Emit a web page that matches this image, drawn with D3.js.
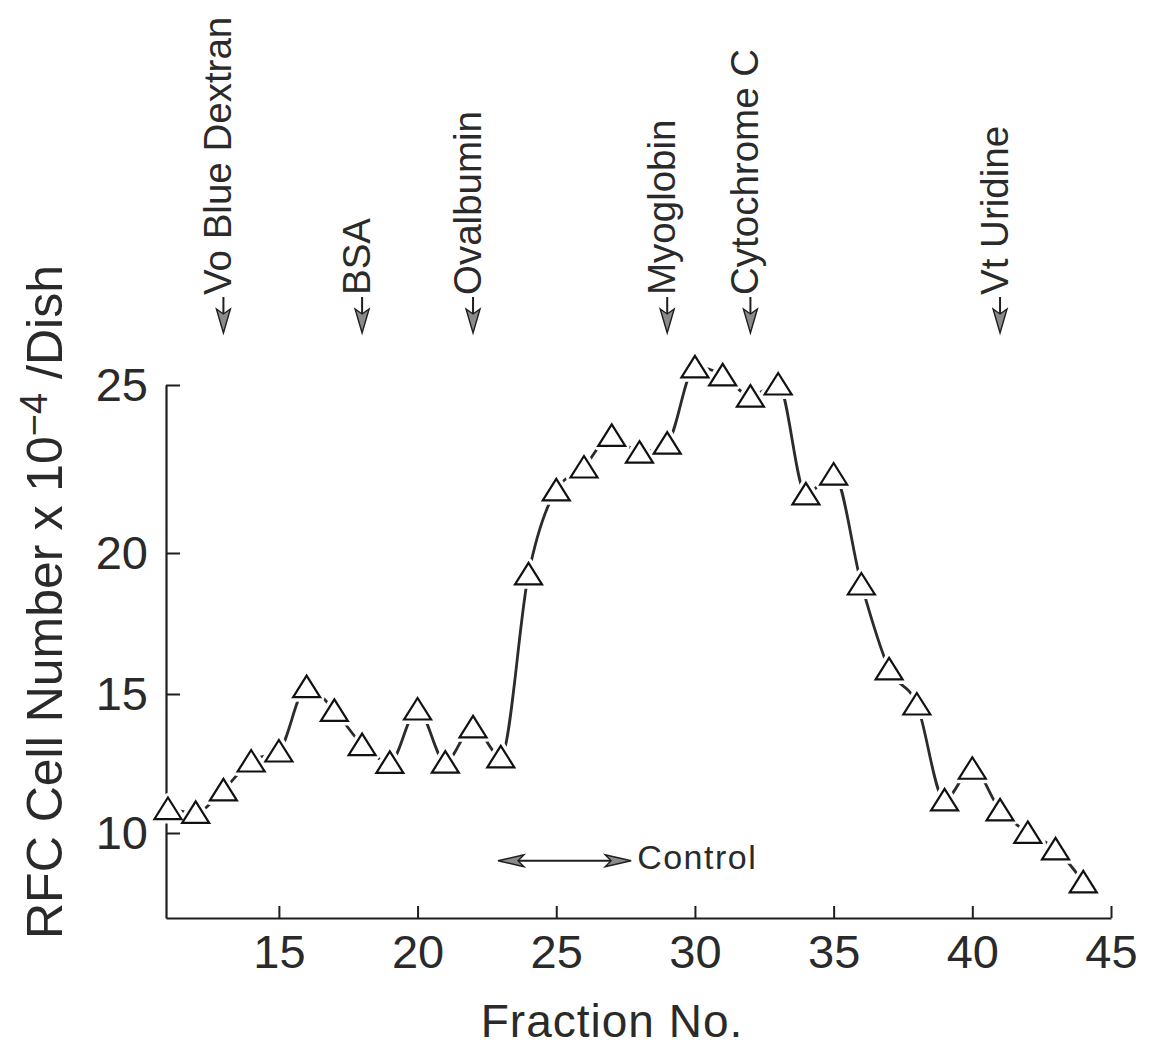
<!DOCTYPE html>
<html>
<head>
<meta charset="utf-8">
<script src="https://cdn.jsdelivr.net/npm/d3@7"></script>
<style>
  html, body { margin: 0; padding: 0; background: #fff; }
  svg { display: block; }
</style>
</head>
<body>
<svg id="chart" width="1156" height="1049"></svg>
<script>
// ---- data ----
const fractions = [11,12,13,14,15,16,17,18,19,20,21,22,23,24,25,26,27,28,29,30,31,32,33,34,35,36,37,38,39,40,41,42,43,44];
const rfcCells = [10.88,10.74,11.55,12.59,12.95,15.26,14.41,13.18,12.54,14.46,12.55,13.82,12.74,19.26,21.88,22.56,23.5,23.0,23.27,25.54,25.3,24.67,25.03,21.76,22.35,18.9,15.89,14.64,11.19,12.33,10.83,10.02,9.43,8.24];
const xTicks = [15,20,25,30,35,40,45];
const yTicks = [10,15,20,25];
const markerNames = ["Vo Blue Dextran","BSA","Ovalbumin","Myoglobin","Cytochrome C","Vt Uridine"];
const markerFractions = [13,18,22,29,32,41];
const controlRange = [22.9, 27.7];
const controlLevel = 9.0;
const controlLabel = "Control";
const xTitle = "Fraction No.";

// ---- scales (y is piecewise to follow the scanned figure) ----
const svg = d3.select("#chart");
const x = d3.scaleLinear().domain([10.93, 45]).range([166, 1111]);
const y = d3.scaleLinear().domain([6.94, 10, 15, 20, 25]).range([918, 833, 694, 553, 385]);

const ink = "#1e1e1e";
const txt = "#2a2a2a";
const font = "'Liberation Sans', Arial, Helvetica, sans-serif";

// ---- axes ----
const yAxis = svg.append("g")
  .attr("transform", `translate(${x.range()[0]},0)`)
  .call(d3.axisLeft(y).tickValues(yTicks).tickSize(-14).tickSizeOuter(0).tickPadding(18).tickFormat(d3.format("d")));
const xAxis = svg.append("g")
  .attr("transform", `translate(0,${y.range()[0]})`)
  .call(d3.axisBottom(x).tickValues(xTicks).tickSize(-12).tickSizeOuter(0).tickPadding(17).tickFormat(d3.format("d")));
[yAxis, xAxis].forEach(g => {
  g.attr("font-family", font).attr("font-size", 47);
  g.selectAll("path.domain").attr("stroke", ink).attr("stroke-width", 2.2);
  g.selectAll(".tick line").attr("stroke", ink).attr("stroke-width", 2);
  g.selectAll(".tick text").attr("fill", txt);
});

// ---- series line ----
const line = d3.line()
  .x((d, i) => x(fractions[i]))
  .y(d => y(d))
  .curve(d3.curveMonotoneX);
svg.append("path")
  .datum(rfcCells)
  .attr("d", line)
  .attr("fill", "none")
  .attr("stroke", "#2b2b2b")
  .attr("stroke-width", 2.8);

// ---- triangles ----
const tri = "M0,-11L13.5,10.5L-13.5,10.5Z";
const pts = svg.append("g");
pts.selectAll("path.halo").data(rfcCells).join("path")
  .attr("class", "halo")
  .attr("d", tri)
  .attr("transform", (d, i) => `translate(${x(fractions[i])},${y(d)})`)
  .attr("fill", "#fff").attr("stroke", "#fff").attr("stroke-width", 9).attr("stroke-linejoin", "round");
pts.selectAll("path.mark").data(rfcCells).join("path")
  .attr("class", "mark")
  .attr("d", tri)
  .attr("transform", (d, i) => `translate(${x(fractions[i])},${y(d)})`)
  .attr("fill", "#fff").attr("stroke", "#111").attr("stroke-width", 2.2).attr("stroke-linejoin", "miter");

// ---- top markers ----
const mk = svg.append("g");
markerNames.forEach((name, i) => {
  const ax = x(markerFractions[i]);
  mk.append("line")
    .attr("x1", ax).attr("x2", ax).attr("y1", 297).attr("y2", 322)
    .attr("stroke", ink).attr("stroke-width", 2);
  mk.append("path")
    .attr("d", `M${ax - 7},309L${ax},333L${ax + 7},309L${ax},314Z`)
    .attr("fill", "#8a8a8a").attr("stroke", ink).attr("stroke-width", 1.4);
  mk.append("text")
    .attr("transform", `translate(${ax + 8},295) rotate(-90)`)
    .attr("font-family", font).attr("font-size", 38.5)
    .attr("fill", txt)
    .text(name);
});

// ---- control arrow ----
const cx0 = x(controlRange[0]), cx1 = x(controlRange[1]), cy = y(controlLevel);
svg.append("line")
  .attr("x1", cx0 + 8).attr("x2", cx1 - 8).attr("y1", cy).attr("y2", cy)
  .attr("stroke", ink).attr("stroke-width", 2);
svg.append("path")
  .attr("d", `M${cx0},${cy}L${cx0 + 26},${cy - 6}L${cx0 + 20},${cy}L${cx0 + 26},${cy + 6}Z`)
  .attr("fill", "#8a8a8a").attr("stroke", ink).attr("stroke-width", 1.4);
svg.append("path")
  .attr("d", `M${cx1},${cy}L${cx1 - 26},${cy - 6}L${cx1 - 20},${cy}L${cx1 - 26},${cy + 6}Z`)
  .attr("fill", "#8a8a8a").attr("stroke", ink).attr("stroke-width", 1.4);
svg.append("text")
  .attr("x", cx1 + 6).attr("y", cy + 8)
  .attr("font-family", font).attr("font-size", 34).attr("letter-spacing", 1.5)
  .attr("fill", txt)
  .text(controlLabel);

// ---- axis titles ----
svg.append("text")
  .attr("x", 612).attr("y", 1037)
  .attr("text-anchor", "middle")
  .attr("font-family", font).attr("font-size", 46).attr("letter-spacing", 1)
  .attr("fill", txt)
  .text(xTitle);

const yt = svg.append("text")
  .attr("transform", "translate(62,602) rotate(-90)")
  .attr("text-anchor", "middle")
  .attr("font-family", font).attr("font-size", 50)
  .attr("fill", txt);
yt.append("tspan").text("RFC Cell Number x 10");
yt.append("tspan").attr("font-size", 38).attr("dy", -15).text("\u22124");
yt.append("tspan").attr("dy", 15).text(" /Dish");
</script>
</body>
</html>
